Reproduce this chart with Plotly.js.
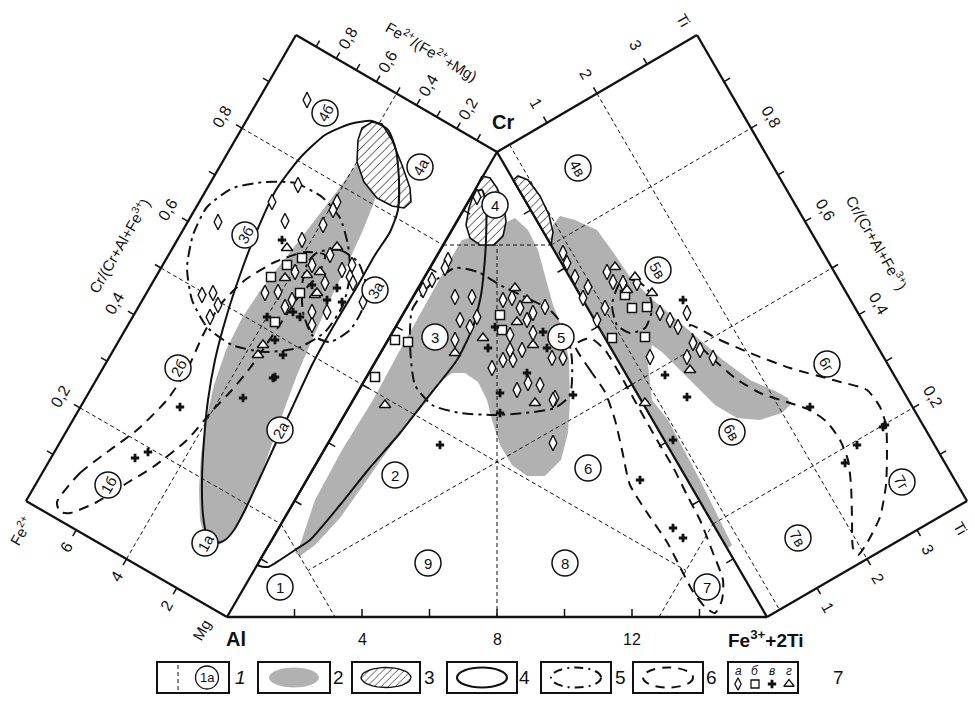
<!DOCTYPE html>
<html><head><meta charset="utf-8">
<script src="https://cdn.plot.ly/plotly-3.0.1.min.js"></script>
<style>html,body{margin:0;padding:0;background:#fff}#c{width:975px;height:712px}</style>
</head><body><div id="c"></div>
<script>
// ---------- DATA (diagram coordinates) ----------
// sample points: а = diamonds, б = squares, в = plus, г = triangles
const diamonds = [[307,100],[298,185],[272,202],[218,222],[285,221],[302,240],[337,202],[333,210],[323,225],[295,272],[312,265],[330,255],[342,270],[352,265],[350,277],[353,283],[325,283],[278,292],[265,293],[292,300],[285,307],[312,312],[327,312],[312,325],[363,302],[202,295],[213,293],[218,305],[210,317],
 [477,197],[448,260],[445,268],[432,280],[423,290],[455,297],[472,297],[460,320],[470,327],[477,317],[455,340],[503,300],[512,298],[520,308],[533,313],[545,307],[510,335],[510,350],[503,360],[513,360],[522,350],[527,320],[533,333],[552,358],[563,358],[492,368],[528,383],[540,385],[517,390],[555,398],[553,443],[553,400],
 [563,253],[567,263],[575,277],[588,287],[583,298],[597,320],[605,308],[607,272],[613,282],[623,283],[637,283],[687,313],[660,313],[670,320],[678,327],[693,343],[700,350],[713,358],[687,357],[650,357]];
const squares = [[302,258],[287,265],[271,277],[300,293],[275,322],[395,340],[408,342],[375,377],[500,315],[502,330],[625,295],[632,308],[647,307],[645,337],[612,338]];
const pluses = [[282,240],[312,285],[327,300],[337,288],[342,302],[293,312],[300,317],[267,317],[275,340],[283,355],[275,377],[273,378],[243,398],[180,407],[135,458],[148,452],
 [495,327],[488,348],[547,348],[543,332],[527,373],[500,393],[573,395],[500,413],[440,445],
 [683,300],[665,375],[687,397],[673,440],[640,480],[673,528],[683,538],[857,445],[845,463],[883,427],[810,407],[885,425]];
const triangles = [[287,248],[315,295],[337,247],[285,278],[307,275],[320,272],[317,293],[263,345],[258,355],
 [385,405],[455,353],[515,288],[527,300],[483,338],[517,322],[533,345],[535,403],
 [615,267],[627,290],[635,277],[652,293],[690,370],[645,403]];

// field outlines
const grayLeft = [[215,545],[205,538],[200,520],[199,490],[201,455],[206,420],[214,385],[226,350],[242,318],[262,288],[288,255],[315,220],[338,190],[352,170],[362,158],[372,158],[378,175],[375,200],[363,230],[347,265],[330,300],[312,340],[297,375],[284,410],[272,445],[260,478],[247,508],[233,530],[222,543]];
const grayTri = [[295,553],[300,545],[315,500],[342,450],[373,400],[400,350],[428,300],[450,260],[462,240],[470,238],[480,245],[495,244],[503,235],[507,222],[515,218],[528,230],[538,250],[545,275],[553,305],[563,330],[569,360],[570,400],[568,433],[561,460],[545,476],[527,476],[512,465],[500,445],[492,420],[487,400],[478,382],[465,373],[452,373],[440,382],[428,400],[400,433],[370,475],[340,518],[315,545],[300,556]];
const grayRight = [[551,245],[553,225],[560,216],[575,220],[597,230],[613,252],[630,277],[653,300],[677,320],[700,340],[723,360],[750,380],[775,391],[788,398],[790,405],[782,413],[760,420],[737,418],[715,405],[697,387],[680,370],[662,352],[652,345],[648,365],[652,400],[668,420],[700,480],[732,545],[727,549]];
const hatchLeft = [[358,140],[362,128],[372,122],[382,124],[392,140],[402,165],[410,188],[411,202],[404,208],[392,206],[377,198],[364,182],[357,162]];
const hatchTri = [[482,176],[490,178],[497,188],[504,205],[506,222],[503,236],[494,245],[480,245],[470,238],[466,225],[469,208],[475,190]];
const hatchRight = [[513,180],[518,176],[528,180],[540,196],[549,215],[553,232],[551,245]];
const solidLeft = [[217,543],[207,535],[203,515],[202,480],[204,440],[208,400],[215,360],[226,318],[240,275],[256,233],[276,190],[300,158],[325,135],[350,124],[372,121],[388,130],[396,150],[399,180],[398,210],[390,232],[375,255],[358,285],[337,320],[313,363],[292,408],[275,445],[258,482],[245,510],[234,530],[225,540],[217,543]];
const solidTri = [[258,565],[272,540],[297,497],[322,454],[347,411],[372,368],[397,325],[422,282],[447,239],[465,208],[475,192],[482,190],[486,205],[486,240],[484,270],[481,295],[473,327],[457,360],[428,397],[400,433],[368,470],[340,505],[310,540],[295,550],[280,560],[268,567],[258,565]];
const dashdotLeftBig = [[265,182],[295,183],[322,197],[340,218],[348,245],[350,275],[343,305],[325,332],[298,348],[265,352],[232,345],[207,327],[192,300],[187,268],[193,235],[207,207],[233,188],[265,182]];
const dashdotLeftSmall = [[318,252],[340,250],[358,262],[366,285],[362,310],[350,330],[330,342],[312,335],[303,312],[302,285],[308,262],[318,252]];
const dashdotTri = [[410,345],[412,310],[430,285],[455,268],[478,272],[500,285],[525,297],[550,310],[566,330],[572,360],[570,395],[555,408],[525,413],[495,415],[460,413],[432,405],[415,385],[410,345]];
const dashdotRight = [[620,283],[635,280],[648,290],[652,310],[645,328],[630,333],[617,325],[612,305],[620,283]];
const dashLeft = [[57,502],[80,473],[110,450],[137,430],[167,400],[187,370],[203,335],[220,305],[245,280],[275,262],[305,252],[325,255],[318,275],[300,295],[283,320],[266,345],[250,368],[232,390],[213,410],[187,440],[153,467],[127,483],[95,503],[70,513],[60,512],[57,502]];
const dashTri = [[575,345],[590,370],[605,392],[615,420],[622,450],[630,485],[650,517],[667,542],[680,567],[692,590],[705,607],[715,613],[722,600],[723,580],[713,553],[700,520],[688,497],[673,467],[657,440],[640,410],[622,378],[605,350],[590,338],[575,345]];
const dashRight = [[690,325],[720,340],[750,353],[790,368],[833,380],[867,390],[880,407],[886,425],[887,450],[886,485],[880,517],[867,543],[858,555],[853,548],[852,517],[851,485],[848,460],[840,440],[827,422],[810,410],[787,402],[760,393],[735,378],[712,358],[695,340],[690,325]];

// circled field labels
const fieldText  = ['4б','4а','3б','3а','2б','1б','2а','1а','1','2','3','4','5','6','7','8','9','4в','5в','6г','6в','7г','7в'];
const fieldPanel = ['L','L','L','L','L','L','L','L','T','T','T','T','T','T','T','T','T','R','R','R','R','R','R'];
const fieldPos = [[325,113],[420,167],[245,235],[375,290],[178,368],[108,485],[280,430],[205,543],
  [280,587],[395,475],[435,337],[495,205],[561,337],[588,468],[707,587],[565,563],[428,563],
  [578,168],[658,270],[827,364],[732,432],[902,482],[798,538]];

// axis tick labels
const crTicks = [0.2,0.4,0.6,0.8];
const crTickText = ['0,2','0,4','0,6','0,8'];
const feMgTicks = [0.2,0.4,0.6,0.8];
const feMgTickText = ['0,2','0,4','0,6','0,8'];
const fe2Ticks = [2,4,6];
const baseTicks = [4,8,12];
const tiTicks = [1,2,3];
const legendLabels = ['1','2','3','4','5','6','7'];
const legendSubs = ['а','б','в','г'];

// ---------- GEOMETRY ----------
const K='#111';
const FONT='Liberation Sans, Arial, sans-serif';
const AL=[227,617], FE=[767,617], CR=[497,152];
const LB=[26,501], LT=[296,35], RT=[697,35], RB=[967,501];
const lerp=(a,b,t)=>[a[0]+(b[0]-a[0])*t, a[1]+(b[1]-a[1])*t];
const add=(a,v,s)=>[a[0]+v[0]*s, a[1]+v[1]*s];
function outward(P0,P1,inside){
  const d=[P1[0]-P0[0],P1[1]-P0[1]]; const L=Math.hypot(d[0],d[1]);
  let n=[-d[1]/L, d[0]/L]; const m=lerp(P0,P1,0.5);
  if((inside[0]-m[0])*n[0]+(inside[1]-m[1])*n[1]>0) n=[-n[0],-n[1]];
  return n;
}
const nLside=outward(LB,LT,AL), nLtop=outward(CR,LT,AL), nLbot=outward(AL,LB,CR);
const nRside=outward(RB,RT,FE), nRtop=outward(CR,RT,FE), nRbot=outward(FE,RB,CR);
const nTbase=outward(AL,FE,CR).map(v=>-v), nTleft=outward(AL,CR,FE).map(v=>-v), nTright=outward(FE,CR,AL).map(v=>-v);

function segTrace(list,line){const x=[],y=[];list.forEach(s=>{x.push(s[0][0],s[1][0],null);y.push(s[0][1],s[1][1],null);});return {type:'scatter',mode:'lines',x,y,line,hoverinfo:'skip'};}
function polyTrace(pts,opt){const x=pts.map(p=>p[0]),y=pts.map(p=>p[1]);x.push(pts[0][0]);y.push(pts[0][1]);return Object.assign({type:'scatter',mode:'lines',x,y,hoverinfo:'skip'},opt);}
function lineTrace(pts,line){return {type:'scatter',mode:'lines',x:pts.map(p=>p[0]),y:pts.map(p=>p[1]),line:Object.assign({shape:'spline',smoothing:0.6},line),hoverinfo:'skip'};}

const aeP=v=>lerp(AL,CR,v), feP=v=>lerp(FE,CR,v), lsP=v=>lerp(LB,LT,v), rsP=v=>lerp(RB,RT,v), btP=v=>lerp(AL,FE,v/16);
const grid=[
 [lsP(.8),aeP(.8)],[lsP(.5),aeP(.5)],[aeP(.5),lerp(aeP(.5),FE,0.8)],
 [lsP(.2),aeP(.2)],[aeP(.2),btP(3.2)],
 [lerp(AL,LB,.5),lerp(CR,LT,.5)],
 [aeP(.8),feP(.8)],[btP(8),[btP(8)[0],aeP(.8)[1]]],
 [feP(.5),lerp(feP(.5),AL,0.8)],[btP(12.8),feP(.2)],
 [feP(.8),rsP(.8)],[feP(.5),rsP(.5)],[feP(.2),rsP(.2)],
 [lerp(CR,RT,.5),lerp(FE,RB,.5)],[lerp(CR,RT,.0625),lerp(FE,RB,.0625)]
];
const frame=[[AL,LB],[LB,LT],[LT,CR],[CR,AL],[AL,FE],[FE,CR],[CR,RT],[RT,RB],[RB,FE]];
const ticks=[];
for(let i=1;i<10;i++){ticks.push([lsP(i/10),add(lsP(i/10),nLside,7)]);ticks.push([lerp(CR,LT,i/10),add(lerp(CR,LT,i/10),nLtop,7)]);ticks.push([rsP(i/10),add(rsP(i/10),nRside,7)]);}
fe2Ticks.forEach(v=>{const p=lerp(AL,LB,v/8);ticks.push([p,add(p,nLbot,7)]);});
tiTicks.forEach(v=>{let p=lerp(CR,RT,v/4);ticks.push([p,add(p,nRtop,7)]);p=lerp(FE,RB,v/4);ticks.push([p,add(p,nRbot,7)]);});
for(let k=1;k<8;k++){let p=btP(2*k);ticks.push([p,add(p,nTbase,8)]);p=aeP(k/8);ticks.push([p,add(p,nTleft,8)]);p=feP(k/8);ticks.push([p,add(p,nTright,8)]);}

const traces=[];
[grayLeft,grayTri,grayRight].forEach(g=>traces.push(polyTrace(g,{fill:'toself',fillcolor:'#b1b1b1',line:{width:0,color:'rgba(0,0,0,0)'}})));
traces.push(segTrace(grid,{color:K,width:1,dash:'4px,3px'}));
const hatchOpt={fill:'toself',fillcolor:'#fff',fillpattern:{shape:'/',size:6,solidity:0.15,fgcolor:'#222',bgcolor:'#fff'},line:{color:K,width:1.6}};
[hatchLeft,hatchTri,hatchRight].forEach(h=>traces.push(polyTrace(h,hatchOpt)));
[solidLeft,solidTri].forEach(s=>traces.push(lineTrace(s,{color:K,width:2})));
[dashdotLeftBig,dashdotLeftSmall,dashdotTri,dashdotRight].forEach(s=>traces.push(lineTrace(s,{color:K,width:2,dash:'11px,5px,3px,5px'})));
[dashLeft,dashTri,dashRight].forEach(s=>traces.push(lineTrace(s,{color:K,width:2,dash:'10px,7px'})));
traces.push(segTrace(frame,{color:K,width:2.3}));
traces.push(segTrace(ticks,{color:K,width:1.5}));
function mk(pts,symbol,size,fill,lw){return {type:'scatter',mode:'markers',x:pts.map(p=>p[0]),y:pts.map(p=>p[1]),marker:{symbol,size,color:fill,line:{color:K,width:lw}},hoverinfo:'skip'};}
traces.push(mk(diamonds,'diamond-tall',11,'#fff',1.4));
traces.push(mk(squares,'square',9,'#fff',1.5));
traces.push(mk(triangles,'triangle-up',10,'#fff',1.4));
traces.push(mk(pluses,'cross',7,K,0));
traces.push({type:'scatter',mode:'markers',x:fieldPos.map(p=>p[0]),y:fieldPos.map(p=>p[1]),marker:{symbol:'circle',size:26,color:'#fff',line:{color:K,width:1.5}},hoverinfo:'skip'});

// ---------- TEXT ----------
const ann=[];
function T(p,text,size,angle){ann.push({x:p[0],y:p[1],xref:'x',yref:'y',text,showarrow:false,textangle:angle||0,font:{family:FONT,size:size,color:K},xanchor:'center',yanchor:'middle'});}
fieldText.forEach((t,i)=>T(fieldPos[i],t,15,fieldPanel[i]==='L'?-60:(fieldPanel[i]==='R'?60:0)));
crTicks.forEach((v,i)=>{T(add(lsP(v),nLside,23),crTickText[i],16,-60);T(add(rsP(v),nRside,23),crTickText[i],16,60);});
feMgTicks.forEach((v,i)=>T(add(lerp(CR,LT,v),nLtop,23),feMgTickText[i],16,-60));
fe2Ticks.forEach(v=>T(add(lerp(AL,LB,v/8),nLbot,20),String(v),16,-60));
tiTicks.forEach(v=>{T(add(lerp(CR,RT,v/4),nRtop,22),String(v),16,60);T(add(lerp(FE,RB,v/4),nRbot,22),String(v),16,60);});
baseTicks.forEach(v=>T([btP(v)[0],639],String(v),16,0));
T([118,245],'Cr/(Cr+Al+Fe<sup>3+</sup>)',15,-60);
T([432,50],'Fe<sup>2+</sup>/(Fe<sup>2+</sup>+Mg)',15,30);
T([878,242],'Cr/(Cr+Al+Fe<sup>3+</sup>)',15,60);
T([20,530],'Fe<sup>2+</sup>',15,-60);
T([201,630],'Mg',15,-60);
T([684,20],'Ti',15,60);
T([961,528],'Ti',15,60);
T([236,639],'<b>Al</b>',20,0);
T([503,122],'<b>Cr</b>',20,0);
T([766,639],'<b>Fe<sup>3+</sup>+2Ti</b>',19,0);

// ---------- LEGEND ----------
const shapes=[];
const bxs=[157,258,352,447,541,633,728], bws=[72,72,68,70,70,70,70], lxs=[240,338,429,524,620,711,838];
const by0=662, by1=693, cy=(by0+by1)/2;
for(let i=0;i<7;i++){
  const x0=bxs[i], bw=bws[i], cx=x0+bw/2;
  shapes.push({type:'rect',xref:'x',yref:'y',x0,x1:x0+bw,y0:by0,y1:by1,line:{color:K,width:2}});
  T([lxs[i],cy],i===0?'<i>1</i>':legendLabels[i],19,0);
  const e={type:'circle',xref:'x',yref:'y',x0:cx-25,x1:cx+25,y0:cy-10,y1:cy+10};
  if(i===0){
    shapes.push({type:'line',xref:'x',yref:'y',x0:x0+21,x1:x0+21,y0:by0+3,y1:by1-3,line:{color:K,width:1,dash:'4px,3px'}});
    traces.push({type:'scatter',mode:'markers',x:[x0+50],y:[cy],marker:{symbol:'circle',size:23,color:'#fff',line:{color:K,width:1.3}},hoverinfo:'skip'});
    T([x0+50,cy],'1а',13,0);
  }
  if(i===1) shapes.push(Object.assign({},e,{fillcolor:'#b1b1b1',line:{width:0}}));
  if(i===2){const ex=[],ey=[];for(let a=0;a<=36;a++){ex.push(cx+25*Math.cos(a*Math.PI/18));ey.push(cy+10*Math.sin(a*Math.PI/18));}
    traces.push({type:'scatter',mode:'lines',x:ex,y:ey,fill:'toself',fillcolor:'#fff',fillpattern:{shape:'/',size:5,solidity:0.15,fgcolor:'#222',bgcolor:'#fff'},line:{color:K,width:1.4},hoverinfo:'skip'});}
  if(i===3) shapes.push(Object.assign({},e,{line:{color:K,width:2.2}}));
  if(i===4) shapes.push(Object.assign({},e,{line:{color:K,width:2,dash:'9px,5px,2px,5px'}}));
  if(i===5) shapes.push(Object.assign({},e,{line:{color:K,width:2,dash:'9px,7px'}}));
  if(i===6){
    legendSubs.forEach((t,j)=>T([x0+10+j*17,by0+9],'<i>'+t+'</i>',12,0));
    traces.push(mk([[x0+10,by0+22]],'diamond-tall',9,'#fff',1.3));
    traces.push(mk([[x0+27,by0+22]],'square',8,'#fff',1.3));
    traces.push(mk([[x0+44,by0+22]],'cross',7,K,0));
    traces.push(mk([[x0+61,by0+22]],'triangle-up',9,'#fff',1.3));
  }
}

const layout={width:975,height:712,margin:{l:0,r:0,t:0,b:0},paper_bgcolor:'#fff',plot_bgcolor:'#fff',showlegend:false,
  xaxis:{range:[0,975],visible:false,fixedrange:true},yaxis:{range:[712,0],visible:false,fixedrange:true},
  annotations:ann,shapes};
Plotly.newPlot('c',traces,layout,{staticPlot:true});
</script></body></html>
